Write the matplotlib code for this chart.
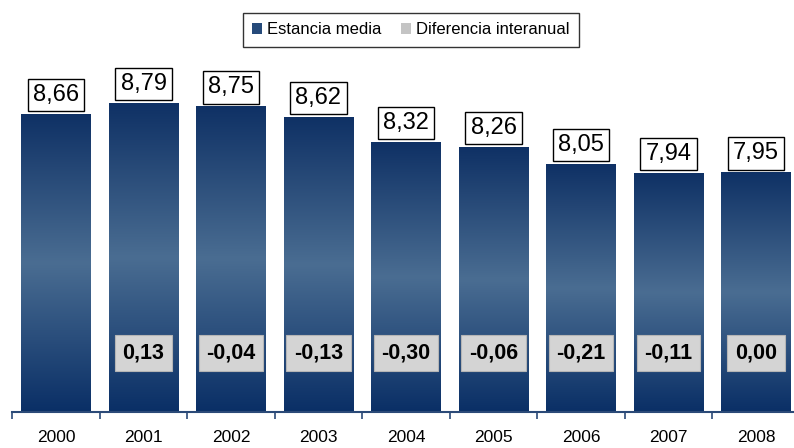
import numpy as np
import matplotlib.pyplot as plt
from matplotlib.colors import LinearSegmentedColormap
from matplotlib.patches import Patch

plt.rcParams['font.family'] = ['Liberation Sans', 'DejaVu Sans']

years = ['2000', '2001', '2002', '2003', '2004', '2005', '2006', '2007', '2008']
estancia = [8.66, 8.79, 8.75, 8.62, 8.32, 8.26, 8.05, 7.94, 7.95]
diferencia = [None, 0.13, -0.04, -0.13, -0.30, -0.06, -0.21, -0.11, 0.00]

def fmt(v):
    return ('%.2f' % v).replace('.', ',')

W, H = 794, 448
fig = plt.figure(figsize=(W / 100, H / 100), dpi=100)
# ejes: linea base en y=412 px, categorias de 87.5 px desde x=12
ax = fig.add_axes([12.25 / W, 36 / H, 787.5 / W, (412 - 50) / H])
ymin = 5.05
ymax = ymin + (412 - 50) / 82.5
ax.set_xlim(-0.5, len(years) - 0.5)
ax.set_ylim(ymin, ymax)

# degradado de las barras: oscuro arriba, claro en medio, oscuro abajo
cmap = LinearSegmentedColormap.from_list(
    'barra', [(0.0, '#0a2f66'), (0.5, '#4a6d92'), (1.0, '#0f3165')])
grad = np.linspace(0, 1, 256).reshape(-1, 1)
bw = 0.79
for i, v in enumerate(estancia):
    ax.imshow(grad, cmap=cmap, origin='lower', aspect='auto',
              extent=[i - bw / 2, i + bw / 2, ymin, v], zorder=2,
              interpolation='bilinear')
    ax.annotate(fmt(v), (i, v), xytext=(0, 6), textcoords='offset points',
                ha='center', va='bottom', fontsize=17, color='black', zorder=5,
                bbox=dict(boxstyle='square,pad=0.22', fc='white', ec='black', lw=1))

# etiquetas de diferencia interanual
for i, d in enumerate(diferencia):
    if d is None:
        continue
    ax.text(i, 5.77, fmt(d), ha='center', va='center', fontsize=15.5,
            fontweight='bold', color='black', zorder=5,
            bbox=dict(boxstyle='square,pad=0.35', fc='#d4d4d4', ec='#b5b5b5', lw=0.8))

ax.set_xticks(range(len(years)))
ax.set_xticklabels(years, fontsize=12.5)
ax.set_xticks(np.arange(-0.5, len(years), 1.0), minor=True)
ax.tick_params(axis='x', which='major', length=0, pad=13)
ax.tick_params(axis='x', which='minor', length=5, width=1.2, color='#2b4a78', direction='out')
ax.set_yticks([])
for s in ['top', 'right', 'left']:
    ax.spines[s].set_visible(False)
ax.spines['bottom'].set_color('#2b4a78')
ax.spines['bottom'].set_linewidth(1.5)
ax.set_facecolor('none')

handles = [Patch(facecolor='#264a7a', edgecolor='none', label='Estancia media'),
           Patch(facecolor='#c4c4c4', edgecolor='none', label='Diferencia interanual')]
leg = fig.legend(handles=handles, loc='center', bbox_to_anchor=(411 / W, 1 - 30 / H),
                 ncol=2, fontsize=12, frameon=True, fancybox=False,
                 handlelength=0.6, handleheight=0.6, handletextpad=0.3,
                 columnspacing=1.2, borderpad=0.55)
leg.get_frame().set_edgecolor('black')
leg.get_frame().set_linewidth(1)

fig.savefig('out.png', dpi=100)
